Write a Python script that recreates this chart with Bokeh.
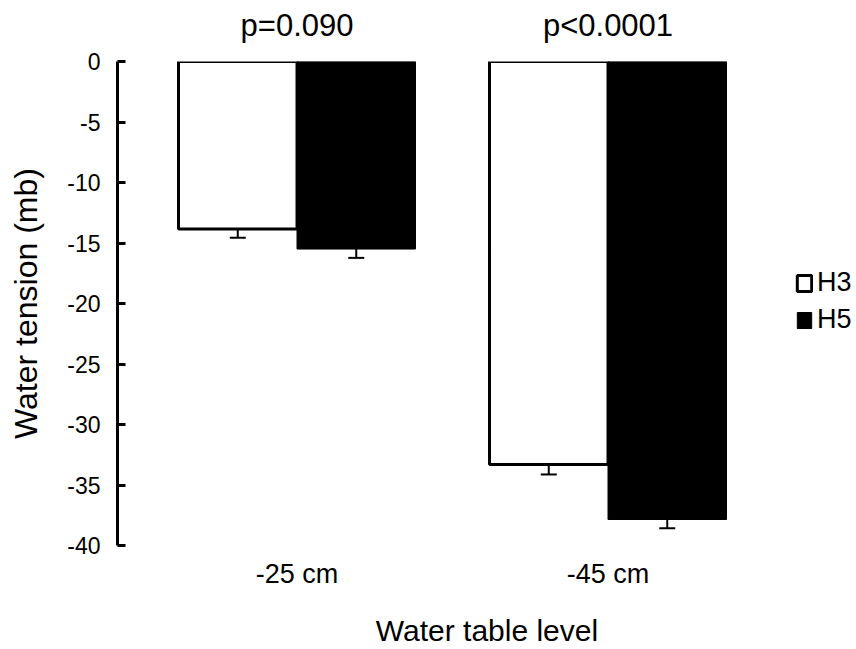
from bokeh.plotting import figure
from bokeh.layouts import column
from bokeh.models import (Range1d, FixedTicker, Whisker, TeeHead, ColumnDataSource,
                          Legend, LegendItem)
from bokeh.core.properties import value
from bokeh.embed import file_html
from bokeh.resources import INLINE

# ---- data ----
groups = ["-25 cm", "-45 cm"]
group_pos = [1, 2]
h3 = [-13.85, -33.3]
h3_err = [0.72, 0.83]
h5 = [-15.5, -37.85]
h5_err = [0.73, 0.72]
p_values = ["p=0.090", "p<0.0001"]
y_ticks = [0, -5, -10, -15, -20, -25, -30, -35, -40]

FONT = "Liberation Sans"
BW = 0.381
OFF = BW / 2

src = ColumnDataSource(dict(
    x=group_pos,
    x3=[g - OFF for g in group_pos],
    x5=[g + OFF for g in group_pos],
    h3=h3, h5=h5,
    h3_lo=[v - e for v, e in zip(h3, h3_err)],
    h5_lo=[v - e for v, e in zip(h5, h5_err)],
    base=[0 for _ in group_pos],
    p=p_values,
))

xr = Range1d(0.4228, 2.799)

# ---- strip above the plot holding the p-values ----
top = figure(width=856, height=46, output_backend="svg", toolbar_location=None,
             x_range=xr, y_range=Range1d(0, 46),
             x_axis_location=None, y_axis_location=None,
             min_border_left=117, min_border_right=0, min_border_top=0,
             min_border_bottom=0)
top.outline_line_color = None
top.xgrid.visible = False
top.ygrid.visible = False
top.background_fill_color = "white"
top.border_fill_color = "white"
top.text(x="x", y=21, text="p", source=src, text_align="center",
         text_baseline="middle", text_font=value(FONT),
         text_font_size="31px", text_color="black")

# ---- main plot ----
p = figure(width=856, height=603, output_backend="svg", toolbar_location=None,
           x_range=xr, y_range=Range1d(-40, 0),
           min_border_left=117, min_border_right=0, min_border_top=15,
           min_border_bottom=104)
p.outline_line_color = None
p.xgrid.visible = False
p.ygrid.visible = False
p.background_fill_color = "white"
p.border_fill_color = "white"

r3 = p.vbar(x="x3", top="base", bottom="h3", width=BW, source=src,
            fill_color="white", line_color="black", line_width=3)
r5 = p.vbar(x="x5", top="base", bottom="h5", width=BW, source=src,
            fill_color="black", line_color="black", line_width=1)

for xcol, topc, lo in (("x3", "h3", "h3_lo"), ("x5", "h5", "h5_lo")):
    w = Whisker(source=src, base=xcol, upper=topc, lower=lo, dimension="height",
                line_color="black", line_width=2,
                lower_head=TeeHead(size=16, line_width=2, line_color="black"),
                upper_head=None)
    p.add_layout(w)

# y axis
ya = p.yaxis[0]
ya.bounds = (-40, 0)
ya.ticker = FixedTicker(ticks=y_ticks)
ya.major_label_overrides = {t: str(t) for t in y_ticks}
ya.major_tick_in = 8
ya.major_tick_out = 0
ya.minor_tick_line_color = None
ya.axis_line_width = 3
ya.major_tick_line_width = 3
ya.axis_line_color = "black"
ya.major_tick_line_color = "black"
ya.major_label_standoff = 17
ya.major_label_text_font = FONT
ya.major_label_text_font_size = "23px"
ya.major_label_text_color = "black"
ya.axis_label = "Water tension (mb)"
ya.axis_label_text_font = FONT
ya.axis_label_text_font_size = "32px"
ya.axis_label_text_font_style = "normal"
ya.axis_label_text_color = "black"
ya.axis_label_standoff = 20

# x axis
xa = p.xaxis[0]
xa.ticker = FixedTicker(ticks=group_pos)
xa.major_label_overrides = {g: lab for g, lab in zip(group_pos, groups)}
xa.axis_line_color = None
xa.major_tick_line_color = None
xa.minor_tick_line_color = None
xa.major_tick_in = 0
xa.major_tick_out = 0
xa.major_label_standoff = 13
xa.major_label_text_font = FONT
xa.major_label_text_font_size = "27px"
xa.major_label_text_color = "black"
xa.axis_label = "Water table level"
xa.axis_label_text_font = FONT
xa.axis_label_text_font_size = "30px"
xa.axis_label_text_font_style = "normal"
xa.axis_label_text_color = "black"
xa.axis_label_standoff = 22

legend = Legend(items=[LegendItem(label="H3", renderers=[r3]),
                       LegendItem(label="H5", renderers=[r5])],
                location=(678, 210), orientation="vertical",
                glyph_width=18, glyph_height=20, label_standoff=4,
                label_text_font=FONT, label_text_font_size="27px",
                label_text_color="black", spacing=6, padding=0, margin=0,
                border_line_color=None, background_fill_alpha=0)
p.add_layout(legend)

layout = column(top, p, spacing=0)
open("out.html", "w").write(file_html(layout, INLINE))
